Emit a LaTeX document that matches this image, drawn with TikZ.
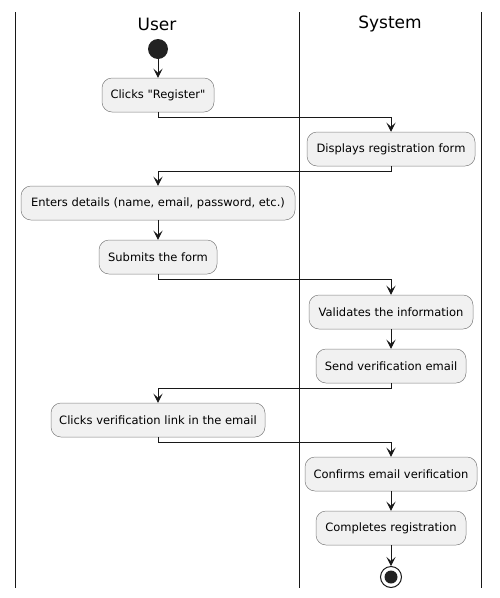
\documentclass[tikz,border=0pt]{standalone}
\usepackage{fontspec}
\setmainfont{DejaVu Sans}
\usetikzlibrary{arrows.meta}
\definecolor{actfill}{HTML}{F1F1F1}
\definecolor{actline}{HTML}{181818}
\definecolor{startfill}{HTML}{222222}

\begin{document}
\begin{tikzpicture}[x=1pt,y=-1pt,
    act/.style={draw=actline!55, fill=actfill, rounded corners=10pt, line width=0.5pt,
      minimum height=34pt, inner sep=0pt, font=\fontsize{11.5}{13}\selectfont},
    lane/.style={actline, line width=1pt},
    lanetitle/.style={font=\fontsize{17}{20}\selectfont},
    flow/.style={actline, line width=0.8pt, -{Stealth[length=9pt,width=9pt,inset=4pt]}},
    startstate/.style={circle, fill=startfill, minimum size=20pt, inner sep=0pt},
    stopstate/.style={circle, draw=actline, line width=1pt, fill=white, minimum size=21pt, inner sep=0pt,
      path picture={\fill[startfill] (path picture bounding box.center) circle (6.5pt);}}]
   \useasboundingbox (0,0) rectangle (500,598);
   % swimlanes
   \draw[lane] (15,12) -- (15,588);
   \draw[lane] (299,12) -- (299,588);
   \draw[lane] (481,12) -- (481,588);
   \node[lanetitle] (user) at (157,24) {User};
   \node[lanetitle] (sys)  at (390,24) {System};
   % activities
   \node[startstate] (start) at (158,49) {};
   \node[act, minimum width=112pt] (reg)  at (158,95)  {Clicks \textquotedbl Register\textquotedbl};
   \node[act, minimum width=168pt] (disp) at (391,149) {Displays registration form};
   \node[act, minimum width=274pt] (det)  at (158,203) {Enters details (name, email, password, etc.)};
   \node[act, minimum width=118pt] (sub)  at (158,257) {Submits the form};
   \node[act, minimum width=164pt] (val)  at (391,312) {Validates the information};
   \node[act, minimum width=150pt] (mail) at (391,366) {Send verification email};
   \node[act, minimum width=214pt] (link) at (158,420) {Clicks verification link in the email};
   \node[act, minimum width=172pt] (conf) at (391,474) {Confirms email verification};
   \node[act, minimum width=150pt] (done) at (391,528) {Completes registration};
   \node[stopstate] (stop) at (391,577) {};
   % flow
   \draw[flow] (start) -- (reg);
   \draw[flow] (reg.south) -- ++(0,5) -| (disp.north);
   \draw[flow] (disp.south) -- ++(0,5) -| (det.north);
   \draw[flow] (det) -- (sub);
   \draw[flow] (sub.south) -- ++(0,5) -| (val.north);
   \draw[flow] (val) -- (mail);
   \draw[flow] (mail.south) -- ++(0,5) -| (link.north);
   \draw[flow] (link.south) -- ++(0,5) -| (conf.north);
   \draw[flow] (conf) -- (done);
   \draw[flow] (done) -- (stop);
\end{tikzpicture}
\end{document}
